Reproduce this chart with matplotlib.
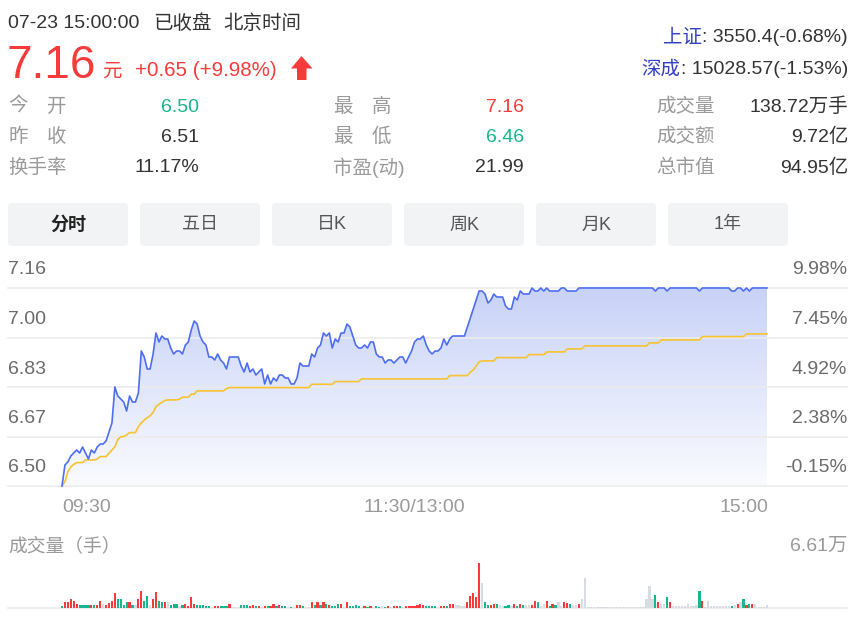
import numpy as np
import matplotlib
matplotlib.use('Agg')
import matplotlib.pyplot as plt
from matplotlib.patches import FancyBboxPatch, Polygon
from matplotlib.colors import LinearSegmentedColormap

plt.rcParams['font.family'] = ['Liberation Sans', 'Noto Sans CJK SC', 'DejaVu Sans']

# ---------------- data ----------------
prev_close = 6.51
y_tick_vals = [6.50, 6.665, 6.83, 6.995, 7.16]
y_tick_labels = ['6.50', '6.67', '6.83', '7.00', '7.16']
pct_labels = ['-0.15%', '2.38%', '4.92%', '7.45%', '9.98%']
x_labels = ['09:30', '11:30/13:00', '15:00']
x_label_idx = [0, 120, 240]
vol_max_label = '6.61万'

price = [
    6.50, 6.57, 6.58, 6.60, 6.61, 6.62, 6.61, 6.63, 6.61, 6.59,
    6.62, 6.61, 6.63, 6.64, 6.64, 6.65, 6.68, 6.71, 6.83, 6.80,
    6.79, 6.78, 6.75, 6.80, 6.78, 6.78, 6.81, 6.95, 6.93, 6.89,
    6.89, 6.94, 7.01, 6.98, 7.00, 6.99, 6.99, 6.96, 6.94, 6.95,
    6.95, 6.94, 6.97, 6.98, 7.02, 7.05, 7.04, 7.00, 6.98, 6.97,
    6.93, 6.93, 6.92, 6.94, 6.92, 6.91, 6.89, 6.93, 6.93, 6.93,
    6.93, 6.90, 6.88, 6.91, 6.88, 6.89, 6.87, 6.88, 6.89, 6.84,
    6.87, 6.84, 6.86, 6.85, 6.87, 6.87, 6.86, 6.86, 6.84, 6.84,
    6.86, 6.91, 6.90, 6.90, 6.90, 6.94, 6.93, 6.96, 6.97, 7.01,
    7.00, 7.01, 6.96, 6.99, 6.98, 7.01, 7.01, 7.04, 7.03, 7.00,
    6.97, 6.96, 6.96, 6.97, 6.96, 6.98, 6.98, 6.94, 6.93, 6.93,
    6.91, 6.92, 6.92, 6.91, 6.92, 6.93, 6.93, 6.91, 6.93, 6.95,
    6.98, 6.99, 6.99, 7.00, 6.97, 6.95, 6.94, 6.95, 6.95, 6.96,
    6.99, 6.97, 6.99, 7.00, 7.00, 7.00, 7.00, 7.00, 7.03, 7.06,
    7.09, 7.12, 7.15, 7.15, 7.14, 7.11, 7.12, 7.14, 7.13, 7.13,
    7.13, 7.10, 7.09, 7.09, 7.13, 7.12, 7.15, 7.14, 7.14, 7.14,
    7.16, 7.15, 7.15, 7.16, 7.15, 7.16, 7.15, 7.15, 7.15, 7.15,
    7.16, 7.16, 7.15, 7.15, 7.15, 7.15, 7.16, 7.16, 7.16, 7.16,
    7.16, 7.16, 7.16, 7.16, 7.16, 7.16, 7.16, 7.16, 7.16, 7.16,
    7.16, 7.16, 7.16, 7.16, 7.16, 7.16, 7.16, 7.16, 7.16, 7.16,
    7.16, 7.16, 7.15, 7.16, 7.16, 7.16, 7.15, 7.16, 7.16, 7.16,
    7.16, 7.16, 7.16, 7.16, 7.16, 7.16, 7.16, 7.15, 7.16, 7.16,
    7.16, 7.16, 7.16, 7.16, 7.16, 7.16, 7.16, 7.16, 7.15, 7.15,
    7.16, 7.16, 7.15, 7.16, 7.15, 7.16, 7.16, 7.16, 7.16, 7.16,
    7.16,
]

avg_price = [
    6.500, 6.514, 6.548, 6.564, 6.572, 6.578, 6.578, 6.578, 6.587, 6.587,
    6.587, 6.587, 6.590, 6.598, 6.598, 6.598, 6.609, 6.620, 6.631, 6.655,
    6.664, 6.665, 6.670, 6.678, 6.678, 6.678, 6.698, 6.710, 6.720, 6.728,
    6.734, 6.745, 6.765, 6.772, 6.779, 6.785, 6.787, 6.787, 6.787, 6.787,
    6.790, 6.796, 6.796, 6.796, 6.806, 6.806, 6.817, 6.817, 6.817, 6.817,
    6.817, 6.817, 6.817, 6.817, 6.817, 6.817, 6.825, 6.828, 6.828, 6.828,
    6.828, 6.828, 6.828, 6.828, 6.828, 6.828, 6.828, 6.828, 6.828, 6.828,
    6.828, 6.828, 6.828, 6.828, 6.828, 6.828, 6.828, 6.828, 6.828, 6.828,
    6.828, 6.828, 6.828, 6.828, 6.828, 6.839, 6.839, 6.839, 6.839, 6.839,
    6.839, 6.839, 6.839, 6.848, 6.848, 6.848, 6.848, 6.848, 6.848, 6.848,
    6.848, 6.848, 6.857, 6.857, 6.857, 6.857, 6.857, 6.857, 6.857, 6.857,
    6.857, 6.857, 6.857, 6.857, 6.857, 6.857, 6.857, 6.857, 6.857, 6.857,
    6.857, 6.857, 6.857, 6.857, 6.857, 6.857, 6.857, 6.857, 6.857, 6.857,
    6.857, 6.857, 6.868, 6.868, 6.868, 6.868, 6.868, 6.868, 6.868, 6.879,
    6.887, 6.900, 6.914, 6.917, 6.917, 6.917, 6.917, 6.917, 6.928, 6.928,
    6.928, 6.928, 6.928, 6.928, 6.928, 6.928, 6.928, 6.928, 6.928, 6.938,
    6.938, 6.938, 6.938, 6.938, 6.938, 6.947, 6.947, 6.947, 6.947, 6.947,
    6.947, 6.947, 6.957, 6.957, 6.957, 6.957, 6.957, 6.957, 6.967, 6.967,
    6.967, 6.967, 6.967, 6.967, 6.967, 6.967, 6.967, 6.967, 6.967, 6.967,
    6.967, 6.967, 6.967, 6.967, 6.967, 6.967, 6.967, 6.967, 6.967, 6.967,
    6.977, 6.977, 6.977, 6.977, 6.987, 6.987, 6.987, 6.987, 6.987, 6.987,
    6.987, 6.987, 6.987, 6.987, 6.987, 6.987, 6.987, 6.987, 6.998, 6.998,
    6.998, 6.998, 6.998, 6.998, 6.998, 6.998, 6.998, 6.998, 6.998, 6.998,
    6.998, 6.998, 6.998, 7.007, 7.007, 7.007, 7.007, 7.007, 7.007, 7.007,
    7.007,
]

volume = [
    2400, 8300, 8300, 13200, 10800, 6400, 4900, 4900, 4900, 4900,
    4900, 4900, 4900, 10800, 5900, 3900, 7300, 10800, 22000, 13200,
    13200, 3900, 8800, 8300, 3900, 3900, 13200, 24500, 10800, 18100,
    3900, 13200, 24000, 10800, 8300, 8300, 8800, 3900, 6400, 6400,
    2400, 3900, 6400, 2400, 15700, 6400, 4900, 4900, 4900, 2400,
    2400, 1900, 2400, 2400, 2400, 2400, 2400, 6400, 1900, 1900,
    1900, 4900, 4900, 4900, 2400, 4900, 2400, 2400, 1900, 2400,
    2400, 2400, 6400, 2400, 4900, 2400, 2400, 1500, 1000, 1500,
    4900, 4900, 2400, 1500, 1500, 8800, 4900, 8800, 4900, 8800,
    5900, 3900, 2400, 2400, 6400, 6400, 1500, 8800, 2400, 2400,
    3900, 2400, 1500, 2400, 1000, 2400, 1500, 2400, 1000, 2400,
    1000, 2400, 1500, 2400, 2400, 2400, 1500, 2400, 2400, 2400,
    2400, 4900, 6400, 3900, 2400, 2400, 2400, 2400, 1500, 2400,
    2400, 2400, 6400, 6400, 4900, 4900, 2400, 2400, 8800, 17100,
    22000, 15700, 66100, 36700, 8800, 3900, 3900, 6400, 6400, 4900,
    2400, 2400, 3900, 2400, 6400, 2400, 6400, 3900, 4900, 4900,
    4900, 10800, 8800, 2400, 6400, 10800, 2400, 6400, 3900, 8800,
    2400, 8800, 7300, 6400, 4900, 4900, 6400, 13200, 44000, 1000,
    1500, 1000, 1500, 1500, 1000, 1500, 1000, 1000, 1500, 1000,
    1000, 1500, 1000, 1000, 1500, 1000, 1500, 1900, 1500, 13200,
    32800, 13200, 19600, 8800, 6400, 6400, 15700, 8800, 2400, 2400,
    2400, 2400, 2400, 6400, 2400, 2400, 4900, 24500, 10800, 1500,
    10800, 2400, 2400, 2400, 2400, 2400, 2400, 2400, 2400, 4900,
    6400, 8800, 13700, 4900, 6400, 6400, 6400, 1500, 1500, 1500,
    4900,
]

# 1 = up, -1 = down, 0 = unchanged
direction = [
    -1, 1, 1, 1, 1, 1, -1, -1, -1, -1,
    1, -1, 1, 1, 0, 1, 1, 1, 1, -1,
    -1, -1, -1, 1, -1, 0, 1, 1, -1, -1,
    0, 1, 1, -1, -1, 1, 0, -1, -1, -1,
    0, -1, 1, 1, 1, 1, -1, -1, -1, -1,
    -1, 0, 1, 1, -1, -1, -1, 1, 0, 0,
    0, -1, -1, -1, 1, 1, -1, 1, 0, 1,
    -1, 1, 1, -1, 1, -1, -1, 0, -1, 0,
    1, 1, -1, 0, 0, 1, -1, 1, -1, 1,
    -1, 1, -1, -1, -1, 1, 0, 1, -1, -1,
    -1, -1, 0, 1, -1, 1, 0, -1, -1, 0,
    -1, 1, 0, 1, 1, -1, 0, 1, 1, 1,
    1, 1, 1, 1, -1, -1, -1, -1, 0, 1,
    1, -1, 1, 1, 0, 0, 0, 0, 1, 1,
    1, 1, 1, 0, -1, -1, 1, 1, -1, 0,
    0, -1, -1, 0, 1, -1, 1, -1, 0, 0,
    1, 1, -1, 0, 0, 1, -1, 1, -1, 0,
    0, 1, 1, -1, 0, 0, 1, 0, 0, 0,
    0, 0, 0, 0, 0, 0, 0, 0, 0, 0,
    0, 0, 0, 0, 0, 0, 0, 0, 0, 0,
    0, 0, -1, 1, 0, 0, -1, 1, 0, 0,
    0, 0, 0, 0, 0, 0, 0, -1, 1, 0,
    0, 0, 0, 0, 0, 0, 0, 0, -1, 0,
    1, 0, -1, 1, -1, 1, 0, 0, 0, 0,
    0,
]

header_time = '07-23 15:00:00'
header_state = '已收盘'
header_zone = '北京时间'
last_price = '7.16'
change_text = '+0.65 (+9.98%)'
index_names = ['上证', '深成']
index_values = [': 3550.4(-0.68%)', ': 15028.57(-1.53%)']

stat_labels = [['今开', '最高', '成交量'],
               ['昨收', '最低', '成交额'],
               ['换手率', '市盈(动)', '总市值']]
stat_values = [['6.50', '7.16', '138.72万手'],
               ['6.51', '6.46', '9.72亿'],
               ['11.17%', '21.99', '94.95亿']]
stat_kinds = [['down', 'up', 'flat'],
              ['flat', 'down', 'flat'],
              ['flat', 'flat', 'flat']]
tabs = ['分时', '五日', '日K', '周K', '月K', '1年']

# ---------------- style ----------------
W, H = 863, 621
RED = '#f73a3a'
GREEN = '#17b68d'
GRAY_BAR = '#d9dbe2'
DARK = '#333333'
LABEL = '#9a9a9a'
AXTXT = '#6b6b6b'
BLUE_TXT = '#3340c2'
LINE_BLUE = '#4e6ef2'
LINE_YEL = '#f7c331'
GRID = '#ececec'
kind_color = {'up': RED, 'down': GREEN, 'flat': DARK}

fig = plt.figure(figsize=(W / 100, H / 100), dpi=100)
fig.patch.set_facecolor('white')

# pixel-coordinate overlay for page text
bg = fig.add_axes([0, 0, 1, 1], zorder=0)
bg.set_xlim(0, W)
bg.set_ylim(H, 0)
bg.axis('off')

FS = 14
# header
bg.text(8, 24, header_time, fontsize=FS, color=DARK, va='center', ha='left')
bg.text(153, 24, header_state, fontsize=FS, color=DARK, va='center', ha='left')
bg.text(223, 24, header_zone, fontsize=FS, color=DARK, va='center', ha='left')
bg.text(7, 78, last_price, fontsize=33, color=RED, va='baseline', ha='left')
bg.text(102, 77, '元', fontsize=14, color=RED, va='baseline', ha='left')
bg.text(135, 76, change_text, fontsize=14.8, color=RED, va='baseline', ha='left')
arrow = Polygon([(301.5, 56), (312.5, 68.5), (306.5, 68.5), (306.5, 80),
                 (297, 80), (297, 68.5), (291, 68.5)], closed=True,
                facecolor=RED, edgecolor='none')
bg.add_patch(arrow)

# index quotes: value right-aligned, name placed just before it
idx_y = [38, 70]
renderer = fig.canvas.get_renderer()
inv = bg.transData.inverted()
for k in range(2):
    tv = bg.text(848, idx_y[k], index_values[k], fontsize=FS, color=DARK, va='center', ha='right')
    ext = tv.get_window_extent(renderer=renderer)
    left_x = inv.transform((ext.x0, ext.y0))[0]
    bg.text(left_x, idx_y[k], index_names[k], fontsize=FS, color=BLUE_TXT,
            va='center', ha='right')

# stats block
row_y = [107, 137, 168]
label_x = [8, 333, 656]
second_x = [47, 372, None]
value_x = [199, 524, 848]
for r in range(3):
    for c in range(3):
        lab = stat_labels[r][c]
        if len(lab) == 2 and second_x[c] is not None:
            bg.text(label_x[c], row_y[r], lab[0], fontsize=FS, color=LABEL, va='center', ha='left')
            bg.text(second_x[c], row_y[r], lab[1], fontsize=FS, color=LABEL, va='center', ha='left')
        else:
            bg.text(label_x[c], row_y[r], lab, fontsize=FS, color=LABEL, va='center', ha='left')
        bg.text(value_x[c], row_y[r], stat_values[r][c], fontsize=FS,
                color=kind_color[stat_kinds[r][c]], va='center', ha='right')

# tabs
for k, t in enumerate(tabs):
    x0 = 8 + k * 132
    box = FancyBboxPatch((x0, 203), 120, 43, boxstyle='round,pad=0,rounding_size=4',
                         facecolor='#f2f3f5', edgecolor='none')
    bg.add_patch(box)
    bg.text(x0 + 60, 225, t, fontsize=13, color=('#222222' if k == 0 else '#555555'),
            fontweight=('bold' if k == 0 else 'normal'), va='center', ha='center')

# ---------------- price chart ----------------
n = len(price)
idx = np.arange(n)
px_per = (767 - 62) / (n - 1)
xl = (-(62 - 8) / px_per, (n - 1) + (847 - 767) / px_per)

ax = fig.add_axes([8 / W, 1 - 486 / H, (847 - 8) / W, (486 - 288) / H], zorder=2)
ax.set_facecolor('none')
ymin, ymax = y_tick_vals[0], y_tick_vals[-1]

fill = ax.fill_between(idx, price, ymin, facecolor='none', edgecolor='none')
cmap = LinearSegmentedColormap.from_list('g', ['#fafbff', '#c8d2f7'])
grad = np.linspace(0, 1, 256).reshape(-1, 1)
im = ax.imshow(grad, extent=[0, n - 1, ymin, ymax], origin='lower', aspect='auto',
               cmap=cmap, zorder=1, interpolation='bicubic')
im.set_clip_path(fill.get_paths()[0], transform=ax.transData)

for v in y_tick_vals:
    ax.axhline(v, color=GRID, lw=1.3, zorder=2, alpha=0.9, clip_on=False)

ax.plot(idx, price, color=LINE_BLUE, lw=1.2, zorder=4, clip_on=False, solid_joinstyle='round')
ax.plot(idx, avg_price, color=LINE_YEL, lw=1.2, zorder=3, clip_on=False)

ax.set_xlim(*xl)
ax.set_ylim(ymin, ymax)
ax.axis('off')

# axis labels (in pixel overlay)
for v, lab, pl in zip(y_tick_vals, y_tick_labels, pct_labels):
    ypix = 486 - (v - ymin) / (ymax - ymin) * (486 - 288)
    bg.text(8, ypix - 18, lab, fontsize=FS, color=AXTXT, va='center', ha='left')
    bg.text(847, ypix - 18, pl, fontsize=FS, color=AXTXT, va='center', ha='right')

x_align = ['left', 'center', 'right']
for lab, i, al in zip(x_labels, x_label_idx, x_align):
    xpix = 62 + i * px_per
    if al == 'right':
        xpix += 1
    bg.text(xpix, 507, lab, fontsize=FS, color=LABEL, va='center', ha=al)

# ---------------- volume chart ----------------
axv = fig.add_axes([8 / W, 1 - 608 / H, (847 - 8) / W, (608 - 563) / H], zorder=2)
axv.set_facecolor('none')
dir_color = {1: RED, -1: GREEN, 0: GRAY_BAR}
colors = [dir_color[d] for d in direction]
axv.bar(idx, volume, width=0.75, color=colors, linewidth=0, zorder=3)
axv.axhline(0, color=GRID, lw=1.3, zorder=2, clip_on=False)
axv.set_xlim(*xl)
axv.set_ylim(0, max(volume))
axv.axis('off')

bg.text(8, 546, '成交量（手）', fontsize=13.5, color=LABEL, va='center', ha='left')
bg.text(847, 546, vol_max_label, fontsize=FS, color=LABEL, va='center', ha='right')

fig.savefig('out.png', dpi=100, facecolor='white')
